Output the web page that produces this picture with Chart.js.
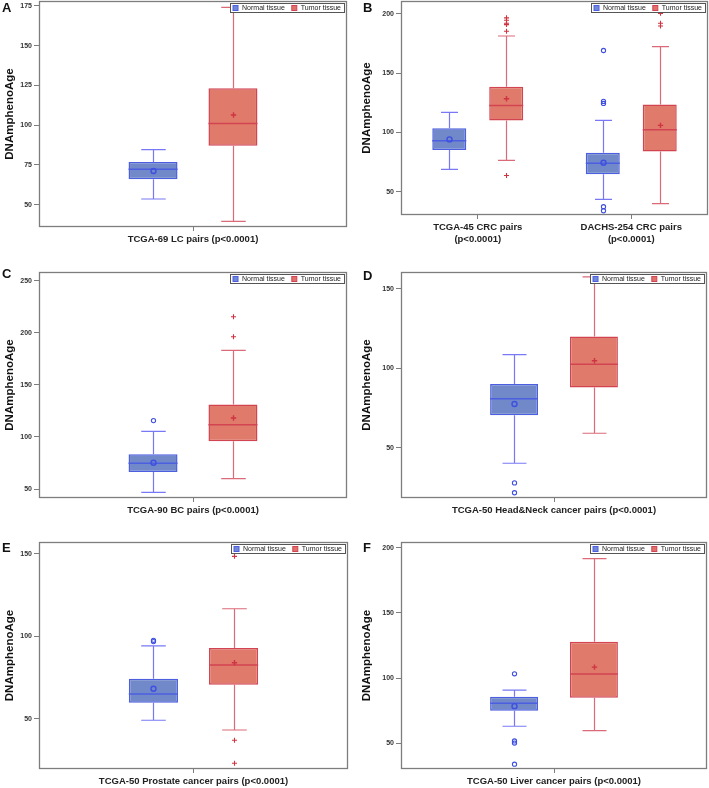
<!DOCTYPE html>
<html>
<head>
<meta charset="utf-8">
<script src="https://cdn.jsdelivr.net/npm/chart.js@4.4.0/dist/chart.umd.min.js"></script>
<style>
  body { margin: 0; background: #fff; }
  #wrap { position: relative; width: 709px; height: 788px; font-family: 'Liberation Sans', Arial, sans-serif; }
  .panel { position: absolute; }
  .letter { position: absolute; font-weight: bold; font-size: 13px; line-height: 13px; color: #111; }
</style>
</head>
<body>
<div id="wrap">
  <div class="panel" style="left:0;top:0"><canvas id="chartA" width="354" height="262"></canvas></div>
  <div class="panel" style="left:354px;top:0"><canvas id="chartB" width="355" height="262"></canvas></div>
  <div class="panel" style="left:0;top:262px"><canvas id="chartC" width="354" height="262"></canvas></div>
  <div class="panel" style="left:354px;top:262px"><canvas id="chartD" width="355" height="262"></canvas></div>
  <div class="panel" style="left:0;top:524px"><canvas id="chartE" width="354" height="264"></canvas></div>
  <div class="panel" style="left:354px;top:524px"><canvas id="chartF" width="355" height="264"></canvas></div>
  <div class="letter" style="left:2px;top:1px">A</div>
  <div class="letter" style="left:363px;top:1px">B</div>
  <div class="letter" style="left:2px;top:267px">C</div>
  <div class="letter" style="left:363px;top:269px">D</div>
  <div class="letter" style="left:2px;top:541px">E</div>
  <div class="letter" style="left:363px;top:541px">F</div>
</div>
<script>
/* data: each row is [whisker low, Q1, median, Q3, whisker high, mean] */

// A
const aLabels = ['TCGA-69 LC pairs (p<0.0001)'];
const aNormal = [[53.6, 66, 72.3, 76.9, 84.6, 71.2]];
const aTumor = [[39.5, 87.1, 101, 123.2, 174, 106.4]];
const aNormalOut = [[]];
const aTumorOut = [[]];
const aTicks = [50, 75, 100, 125, 150, 175];

// B
const bLabels = [['TCGA-45 CRC pairs', '(p<0.0001)'], ['DACHS-254 CRC pairs', '(p<0.0001)']];
const bNormal = [[68.8, 85.1, 92.9, 103.4, 116.8, 94.1], [43.6, 64.7, 74.1, 82.9, 110.1, 74.4]];
const bTumor = [[76.4, 110.1, 122.7, 138.4, 181.2, 128.3], [40, 84, 102.2, 123.6, 172.3, 105.9]];
const bNormalOut = [[], [169, 126.1, 124.4, 37.4, 34]];
const bTumorOut = [[196.5, 194.5, 192, 190.8, 185.2, 63.7], [207, 200.3, 191.9, 189.6]];
const bTicks = [50, 100, 150, 200];

// C
const cLabels = ['TCGA-90 BC pairs (p<0.0001)'];
const cNormal = [[46.8, 66.4, 74.7, 83.4, 105.4, 75.3]];
const cTumor = [[59.9, 95.8, 111.8, 131.1, 183, 118.2]];
const cNormalOut = [[115.7]];
const cTumorOut = [[215.4, 196.2]];
const cTicks = [50, 100, 150, 200, 250];

// D
const dLabels = ['TCGA-50 Head&Neck cancer pairs (p<0.0001)'];
const dNormal = [[40.2, 70.4, 80.9, 90.2, 108.6, 77.5]];
const dTumor = [[59.1, 88, 102.5, 120, 157.6, 104.8]];
const dNormalOut = [[27.8, 21.6]];
const dTumorOut = [[]];
const dTicks = [50, 100, 150];

// E
const eLabels = ['TCGA-50 Prostate cancer pairs (p<0.0001)'];
const eNormal = [[49.2, 59.8, 65.1, 74.4, 94.2, 68.3]];
const eTumor = [[43.3, 70.7, 82.6, 92.9, 116.7, 84]];
const eNormalOut = [[97.6, 96.8]];
const eTumorOut = [[148.4, 37.1, 23.2]];
const eTicks = [50, 100, 150];

// F
const fLabels = ['TCGA-50 Liver cancer pairs (p<0.0001)'];
const fNormal = [[63.1, 75, 80.8, 85.7, 90.8, 78.5]];
const fTumor = [[59.7, 84.9, 103.1, 127.9, 191.6, 108.4]];
const fNormalOut = [[103.3, 51.8, 50.2, 34]];
const fTumorOut = [[]];
const fTicks = [50, 100, 150, 200];

const family = "'Liberation Sans', Arial, sans-serif";
const frameColor = '#7d7d7d';
const blue = { fill: '#7189c8', line: '#4c5fe0', whisker: '#7878f6', mark: '#3f4fe0', key: '#6f86d9' };
const red = { fill: '#e07a6a', line: '#d24452', whisker: '#db6a78', mark: '#cf3442', key: '#e0706a' };

const boxPlugin = {
  id: 'boxWhisker',
  beforeDatasetsDraw(chart) {
    const ctx = chart.ctx;
    const y = chart.scales.y;
    chart.data.datasets.forEach((ds, i) => {
      chart.getDatasetMeta(i).data.forEach((el, j) => {
        const s = ds.stats[j];
        const half = el.width / 4;
        const lo = y.getPixelForValue(s[0]), q1 = y.getPixelForValue(s[1]);
        const q3 = y.getPixelForValue(s[3]), hi = y.getPixelForValue(s[4]);
        const x = Math.round(el.x) + 0.5;
        ctx.save();
        ctx.strokeStyle = ds.whiskerColor;
        ctx.lineWidth = 1.2;
        ctx.beginPath();
        ctx.moveTo(x, hi); ctx.lineTo(x, q3);
        ctx.moveTo(x, q1); ctx.lineTo(x, lo);
        ctx.moveTo(x - half, hi); ctx.lineTo(x + half, hi);
        ctx.moveTo(x - half, lo); ctx.lineTo(x + half, lo);
        ctx.stroke();
        ctx.restore();
      });
    });
  },
  afterDatasetsDraw(chart) {
    const ctx = chart.ctx;
    const y = chart.scales.y;
    const mark = (type, x, py, r, color) => {
      ctx.strokeStyle = color;
      ctx.beginPath();
      if (type === 'circle') {
        ctx.arc(x, py, r, 0, Math.PI * 2);
      } else {
        ctx.moveTo(x - r, py); ctx.lineTo(x + r, py);
        ctx.moveTo(x, py - r); ctx.lineTo(x, py + r);
      }
      ctx.stroke();
    };
    chart.data.datasets.forEach((ds, i) => {
      chart.getDatasetMeta(i).data.forEach((el, j) => {
        const s = ds.stats[j];
        const x = Math.round(el.x) + 0.5;
        ctx.save();
        // median
        ctx.strokeStyle = ds.borderColor;
        ctx.lineWidth = 1.5;
        const m = y.getPixelForValue(s[2]);
        ctx.beginPath();
        ctx.moveTo(el.x - el.width / 2, m);
        ctx.lineTo(el.x + el.width / 2, m);
        ctx.stroke();
        // mean
        ctx.lineWidth = 1.4;
        mark(ds.marker, x, y.getPixelForValue(s[5]), ds.marker === 'circle' ? 2.5 : 2.7, ds.markColor);
        // outliers
        ctx.lineWidth = 1.1;
        ds.outliers[j].forEach(v => {
          mark(ds.marker, x, y.getPixelForValue(v), ds.marker === 'circle' ? 2.1 : 2.5, ds.markColor);
        });
        ctx.restore();
      });
    });
  },
  afterDraw(chart) {
    const ctx = chart.ctx;
    const ca = chart.chartArea;
    ctx.save();
    // frame
    ctx.strokeStyle = frameColor;
    ctx.lineWidth = 1.3;
    ctx.strokeRect(Math.round(ca.left) + 0.5, Math.round(ca.top) + 0.5,
      Math.round(ca.right - ca.left) - 1, Math.round(ca.bottom - ca.top) - 1);
    // legend box inside the frame, top right
    ctx.font = '7px ' + family;
    const items = chart.data.datasets.map(ds => ({ text: ds.label, fill: ds.keyColor, line: ds.borderColor }));
    const sq = 5, gap = 4, sep = 7, pad = 3, h = 9;
    let w = pad * 2 - sep;
    items.forEach(it => { it.w = ctx.measureText(it.text).width; w += sq + gap + it.w + sep; });
    const right = Math.round(ca.right) - 3;
    const left = right - w;
    const top = Math.round(ca.top) + 2.5;
    ctx.fillStyle = '#fff';
    ctx.fillRect(left, top, w, h);
    ctx.strokeStyle = '#555';
    ctx.lineWidth = 1;
    ctx.strokeRect(Math.round(left) + 0.5, top, Math.round(w), h);
    let x = left + pad;
    ctx.textBaseline = 'middle';
    items.forEach(it => {
      ctx.fillStyle = it.fill;
      ctx.fillRect(x, top + (h - sq) / 2, sq, sq);
      ctx.strokeStyle = it.line;
      ctx.strokeRect(x, top + (h - sq) / 2, sq, sq);
      x += sq + gap;
      ctx.fillStyle = '#222';
      ctx.fillText(it.text, x, top + h / 2 + 0.5);
      x += it.w + sep;
    });
    ctx.restore();
  }
};

function makeChart(canvasId, p) {
  const set = (name, stats, out, c, marker) => ({
    label: name,
    data: stats.map(s => [s[1], s[3]]),
    stats: stats,
    outliers: out,
    marker: marker,
    backgroundColor: c.fill,
    borderColor: c.line,
    whiskerColor: c.whisker,
    markColor: c.mark,
    keyColor: c.key,
    borderWidth: 1.5,
    borderSkipped: false,
    categoryPercentage: p.cat,
    barPercentage: p.bar
  });
  return new Chart(document.getElementById(canvasId), {
    type: 'bar',
    data: {
      labels: p.labels,
      datasets: [
        set('Normal tissue', p.normal, p.normalOut, blue, 'circle'),
        set('Tumor tissue', p.tumor, p.tumorOut, red, 'plus')
      ]
    },
    options: {
      responsive: false,
      animation: false,
      events: [],
      layout: { padding: { top: p.top, right: p.right, left: 0, bottom: 0 } },
      plugins: { legend: { display: false }, tooltip: { enabled: false } },
      scales: {
        x: {
          offset: true,
          grid: { offset: false, drawOnChartArea: false, tickLength: 4, color: frameColor },
          border: { display: false },
          ticks: { font: { family: family, size: 9.5, weight: 'bold' }, color: '#222', padding: 3, maxRotation: 0, autoSkip: false },
          afterFit(s) { s.height = p.xh; s.paddingLeft = 0; s.paddingRight = 0; }
        },
        y: {
          min: p.min,
          max: p.max,
          grid: { drawOnChartArea: false, tickLength: 5, color: frameColor },
          border: { display: false },
          ticks: { font: { family: family, size: 7, weight: 'bold' }, color: '#333', padding: 2 },
          afterBuildTicks(s) { s.ticks = p.ticks.map(v => ({ value: v })); },
          afterFit(s) { s.width = p.left; s.paddingTop = 0; s.paddingBottom = 0; },
          title: {
            display: true, text: 'DNAmphenoAge', color: '#111',
            font: { family: family, size: 11.5, weight: 'bold' },
            padding: { top: p.titlePad, bottom: 0 }
          }
        }
      }
    },
    plugins: [boxPlugin]
  });
}

makeChart('chartA', { labels: aLabels, normal: aNormal, tumor: aTumor, normalOut: aNormalOut, tumorOut: aTumorOut, ticks: aTicks,
  min: 36, max: 178, left: 39, right: 7, top: 1, xh: 35, cat: 0.519, bar: 0.613, titlePad: 3 });
makeChart('chartB', { labels: bLabels, normal: bNormal, tumor: bTumor, normalOut: bNormalOut, tumorOut: bTumorOut, ticks: bTicks,
  min: 30.4, max: 210.7, left: 47, right: 1, top: 1, xh: 47, cat: 0.742, bar: 0.597, titlePad: 5.8 });
makeChart('chartC', { labels: cLabels, normal: cNormal, tumor: cTumor, normalOut: cNormalOut, tumorOut: cTumorOut, ticks: cTicks,
  min: 41.4, max: 258.3, left: 39, right: 7, top: 10, xh: 26, cat: 0.519, bar: 0.613, titlePad: 3 });
makeChart('chartD', { labels: dLabels, normal: dNormal, tumor: dTumor, normalOut: dNormalOut, tumorOut: dTumorOut, ticks: dTicks,
  min: 18.3, max: 160.7, left: 47, right: 2, top: 10, xh: 26, cat: 0.522, bar: 0.6, titlePad: 5.8 });
makeChart('chartE', { labels: eLabels, normal: eNormal, tumor: eTumor, normalOut: eNormalOut, tumorOut: eTumorOut, ticks: eTicks,
  min: 19.7, max: 157.1, left: 39, right: 6, top: 18, xh: 19, cat: 0.519, bar: 0.613, titlePad: 3 });
makeChart('chartF', { labels: fLabels, normal: fNormal, tumor: fTumor, normalOut: fNormalOut, tumorOut: fTumorOut, ticks: fTicks,
  min: 30.3, max: 204.4, left: 47, right: 2, top: 18, xh: 19, cat: 0.522, bar: 0.6, titlePad: 5.8 });
</script>
</body>
</html>
